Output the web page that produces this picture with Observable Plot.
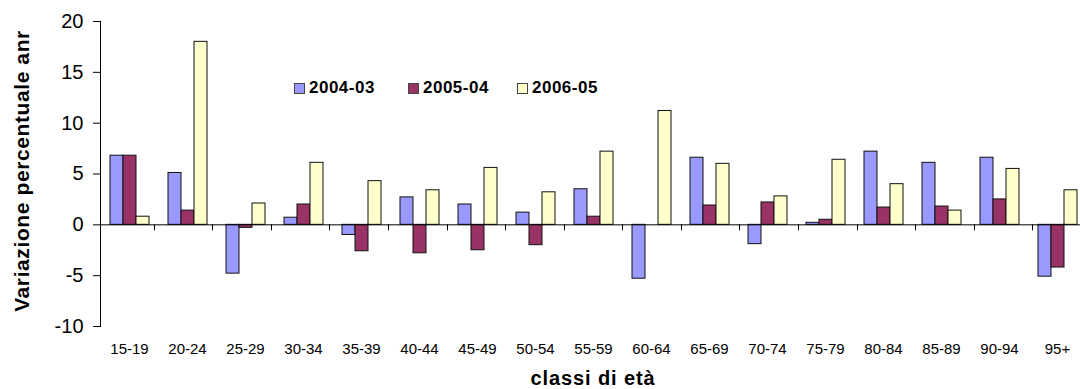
<!DOCTYPE html>
<html>
<head>
<meta charset="utf-8">
<script src="https://cdn.jsdelivr.net/npm/d3@7"></script>
<script src="https://cdn.jsdelivr.net/npm/@observablehq/plot@0.6"></script>
<style>
  html, body { margin: 0; padding: 0; background: #fff; overflow: hidden; }
  #wrap { position: relative; width: 1080px; height: 389px; overflow: hidden; font-family: "Liberation Sans", Arial, sans-serif; color: #000; }
  #chart { position: absolute; left: 0; top: 0; width: 1091px; }
  #chart svg { max-width: none !important; width: 1091px; height: 389px; }
  #ytitle { position: absolute; left: 22px; top: 171px; transform: translate(-50%, -50%) rotate(-90deg); white-space: nowrap; font-weight: bold; font-size: 21px; letter-spacing: 0.6px; }
  #xtitle { position: absolute; left: 593px; top: 378px; transform: translate(-50%, -50%); white-space: nowrap; font-weight: bold; font-size: 20px; letter-spacing: 0.9px; }
  .leg { position: absolute; top: 88px; transform: translateY(-50%); display: flex; align-items: center; white-space: nowrap; font-weight: bold; font-size: 17px; letter-spacing: 0.5px; }
  .sw { width: 9px; height: 9px; border: 1px solid #444; margin-right: 4px; }
</style>
</head>
<body>
<div id="wrap">
  <div id="chart"></div>
  <div id="ytitle">Variazione percentuale anr</div>
  <div id="xtitle">classi di età</div>
</div>
<script>
const categories = ["15-19","20-24","25-29","30-34","35-39","40-44","45-49","50-54","55-59","60-64","65-69","70-74","75-79","80-84","85-89","90-94","95+"];
const series = ["2004-03","2005-04","2006-05"];
const colors = ["#9999FF","#993366","#FFFFCC"];
const values2004 = [6.8, 5.1, -4.8, 0.7, -1.0, 2.7, 2.0, 1.2, 3.5, -5.3, 6.6, -1.9, 0.2, 7.2, 6.1, 6.6, -5.1];
const values2005 = [6.8, 1.4, -0.3, 2.0, -2.6, -2.8, -2.5, -2.0, 0.8, 0.0, 1.9, 2.2, 0.5, 1.7, 1.8, 2.5, -4.2];
const values2006 = [0.8, 18.0, 2.1, 6.1, 4.3, 3.4, 5.6, 3.2, 7.2, 11.2, 6.0, 2.8, 6.4, 4.0, 1.4, 5.5, 3.4];
const yTicks = [-10, -5, 0, 5, 10, 15, 20];
const legendLeft = [294, 408, 517];

const seriesValues = [values2004, values2005, values2006];
const data = [];
categories.forEach((c, i) => {
  series.forEach((s, j) => data.push({cat: c, series: s, value: seriesValues[j][i]}));
});

const chart = Plot.plot({
  width: 1091,
  height: 389,
  marginLeft: 95,
  marginRight: 0,
  marginTop: 21,
  marginBottom: 63,
  style: {fontFamily: "'Liberation Sans', Arial, sans-serif", color: "#000", background: "transparent", maxWidth: "none"},
  fx: {domain: categories, padding: 0, axis: null, label: null},
  x: {domain: series, paddingInner: 0, paddingOuter: 0.72, axis: null},
  y: {domain: [-10, 20], axis: null},
  color: {domain: series, range: colors},
  marks: [
    Plot.barY(data, {fx: "cat", x: "series", y: "value", fill: "series", stroke: "#111", strokeWidth: 1}),
    Plot.ruleY([0], {stroke: "#000"}),
    Plot.frame({anchor: "left", facetAnchor: "left", stroke: "#000"}),
    Plot.axisY({ticks: yTicks, tickSize: 7, tickPadding: 10, fontSize: 20, label: null, tickFormat: d => String(d)}),
    Plot.axisFx({anchor: "bottom", tickSize: 0, tickPadding: 17, fontSize: 15, label: null})
  ]
});
document.getElementById("chart").appendChild(chart);

// small tick marks hanging below the zero line at each category boundary (from Plot's own scales)
const fxDesc = chart.scale("fx");
const yDesc = chart.scale("y");
const band = d3.scaleBand(fxDesc.domain, fxDesc.range).padding(0);
const yLin = d3.scaleLinear(yDesc.domain, yDesc.range);
const y0 = yLin(0);
const svgRoot = chart.tagName.toLowerCase() === "svg" ? chart : chart.querySelector("svg");
d3.select(svgRoot).append("g")
  .attr("stroke", "#000")
  .attr("stroke-width", 1)
  .selectAll("line")
  .data(categories.slice(1))
  .join("line")
  .attr("x1", d => Math.round(band(d)) + 0.5)
  .attr("x2", d => Math.round(band(d)) + 0.5)
  .attr("y1", y0)
  .attr("y2", y0 + 6);

const wrap = document.getElementById("wrap");
series.forEach((s, j) => {
  const item = document.createElement("div");
  item.className = "leg";
  item.style.left = legendLeft[j] + "px";
  const sw = document.createElement("div");
  sw.className = "sw";
  sw.style.background = colors[j];
  const t = document.createElement("span");
  t.textContent = s;
  item.appendChild(sw); item.appendChild(t);
  wrap.appendChild(item);
});
</script>
</body>
</html>
